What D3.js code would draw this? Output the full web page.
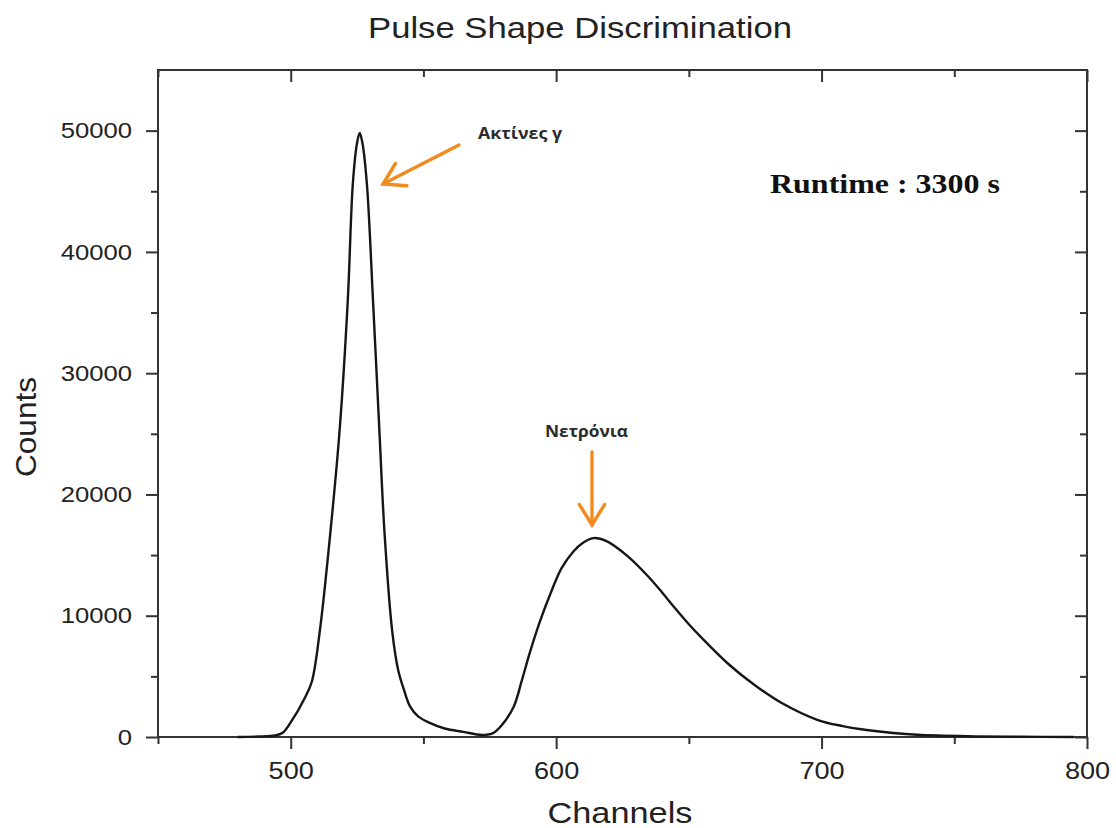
<!DOCTYPE html>
<html>
<head>
<meta charset="utf-8">
<script src="https://cdn.jsdelivr.net/npm/d3@7"></script>
<style>
    body { margin: 0; background: #fff; }
    svg { display: block; }
</style>
</head>
<body>
<div id="chart"></div>
<script>
// spectrum
var channels = [480, 488, 494, 497, 500, 505.5, 508, 511, 515, 518.5, 521.5, 523.4, 525, 526,
    527, 528.7, 531, 533.4, 535.3, 538.2, 540.5, 542.5, 545, 548, 552.6, 558, 565, 572,
    576, 579, 584, 587, 590, 594, 598, 602, 606.5, 610, 614, 619, 627, 634, 640, 644.5, 650, 654.5,
    665, 675, 685, 698.6, 708, 717, 727, 736, 755, 775, 795];
var counts = [0, 40, 120, 350, 1200, 3300, 4600, 8800, 17000, 25500, 36000, 45600, 49000, 49800,
    49000, 45600, 36000, 25300, 17000, 8800, 5500, 4000, 2500, 1700, 1150, 700, 420, 170,
    300, 850, 2500, 4600, 6900, 9600, 11900, 13900, 15300, 16000, 16400, 16150, 14900, 13400, 11900, 10700, 9300, 8250,
    6000, 4250, 2800, 1400, 900, 580, 330, 180, 60, 20, 5];

var xMajor = [500, 600, 700, 800];
var xMinor = [450, 550, 650, 750];
var yMajor = [0, 10000, 20000, 30000, 40000, 50000];
var yMinor = [5000, 15000, 25000, 35000, 45000];

var title = "Pulse Shape Discrimination";
var xTitle = "Channels";
var yTitle = "Counts";
var gammaLabel = "Ακτίνες γ";
var neutronLabel = "Νετρόνια";
var runtimeLabel = "Runtime : 3300 s";

var width = 1116, height = 828;
var plotLeft = 158, plotRight = 1087, plotTop = 70, plotBottom = 737;
var axisColor = "#333";
var orange = "#f28a1e";

var svg = d3.select("#chart").append("svg")
    .attr("width", width)
    .attr("height", height);

var x = d3.scaleLinear().domain([450, 800]).range([plotLeft, plotRight]);
var y = d3.scaleLinear().domain([0, 55000]).range([plotBottom, plotTop]);

// text in the picture is a bit wider than normal, stretch it
function stretch(sel, k) {
    sel.each(function () {
        var w = this.getComputedTextLength();
        d3.select(this).attr("textLength", w * k).attr("lengthAdjust", "spacingAndGlyphs");
    });
}

// frame
svg.append("rect")
    .attr("x", plotLeft).attr("y", plotTop)
    .attr("width", plotRight - plotLeft).attr("height", plotBottom - plotTop)
    .attr("fill", "none")
    .attr("stroke", axisColor)
    .attr("stroke-width", 2);

function styleAxis(g) {
    g.select(".domain").remove();
    g.selectAll("line").attr("stroke", axisColor).attr("stroke-width", 2);
    g.selectAll("text")
        .attr("fill", "#222")
        .attr("font-family", "Liberation Sans, Arial, sans-serif");
}

// bottom
var gx = svg.append("g").attr("transform", "translate(0," + plotBottom + ")")
    .call(d3.axisBottom(x).tickValues(xMajor).tickSize(12).tickPadding(13).tickFormat(d3.format("d")));
styleAxis(gx);
gx.selectAll("text").attr("font-size", 24);
stretch(gx.selectAll("text"), 1.13);
svg.append("g").attr("transform", "translate(0," + plotBottom + ")")
    .call(d3.axisBottom(x).tickValues(xMinor).tickSize(7).tickFormat(""))
    .call(styleAxis);

// top, ticks inside
svg.append("g").attr("transform", "translate(0," + plotTop + ")")
    .call(d3.axisBottom(x).tickValues(xMajor).tickSize(12).tickFormat(""))
    .call(styleAxis);
svg.append("g").attr("transform", "translate(0," + plotTop + ")")
    .call(d3.axisBottom(x).tickValues(xMinor).tickSize(7).tickFormat(""))
    .call(styleAxis);

// left
var gy = svg.append("g").attr("transform", "translate(" + plotLeft + ",0)")
    .call(d3.axisLeft(y).tickValues(yMajor).tickSize(12).tickPadding(14).tickFormat(d3.format("d")));
styleAxis(gy);
gy.selectAll("text").attr("font-size", 22.5);
stretch(gy.selectAll("text"), 1.14);
svg.append("g").attr("transform", "translate(" + plotLeft + ",0)")
    .call(d3.axisLeft(y).tickValues(yMinor).tickSize(7).tickFormat(""))
    .call(styleAxis);

// right, ticks inside
svg.append("g").attr("transform", "translate(" + plotRight + ",0)")
    .call(d3.axisLeft(y).tickValues(yMajor).tickSize(12).tickFormat(""))
    .call(styleAxis);
svg.append("g").attr("transform", "translate(" + plotRight + ",0)")
    .call(d3.axisLeft(y).tickValues(yMinor).tickSize(7).tickFormat(""))
    .call(styleAxis);

// spectrum line
var points = channels.map(function (c, i) { return [c, counts[i]]; });
var line = d3.line()
    .x(d => x(d[0]))
    .y(d => y(d[1]))
    .curve(d3.curveCatmullRom.alpha(0.5));

svg.append("path")
    .attr("d", line(points))
    .attr("fill", "none")
    .attr("stroke", "#161616")
    .attr("stroke-width", 2.4)
    .attr("stroke-linejoin", "round");

// titles
svg.append("text")
    .text(title)
    .attr("x", 580).attr("y", 38)
    .attr("text-anchor", "middle")
    .attr("font-family", "Liberation Sans, Arial, sans-serif")
    .attr("font-size", 29.5)
    .attr("fill", "#222")
    .attr("textLength", 424).attr("lengthAdjust", "spacingAndGlyphs");

svg.append("text")
    .text(xTitle)
    .attr("x", 620).attr("y", 823)
    .attr("text-anchor", "middle")
    .attr("font-family", "Liberation Sans, Arial, sans-serif")
    .attr("font-size", 30)
    .attr("fill", "#222")
    .attr("textLength", 145).attr("lengthAdjust", "spacingAndGlyphs");

svg.append("text")
    .text(yTitle)
    .attr("transform", "translate(36,427) rotate(-90)")
    .attr("text-anchor", "middle")
    .attr("font-family", "Liberation Sans, Arial, sans-serif")
    .attr("font-size", 30)
    .attr("fill", "#222")
    .attr("textLength", 100).attr("lengthAdjust", "spacingAndGlyphs");

// annotations
svg.append("text")
    .text(gammaLabel)
    .attr("x", 478).attr("y", 139)
    .attr("font-family", "Open Sans, sans-serif")
    .attr("font-weight", "bold")
    .attr("font-size", 16)
    .attr("fill", "#2b2b2b")
    .attr("textLength", 84).attr("lengthAdjust", "spacingAndGlyphs");

svg.append("text")
    .text(neutronLabel)
    .attr("x", 545).attr("y", 437)
    .attr("font-family", "Open Sans, sans-serif")
    .attr("font-weight", "bold")
    .attr("font-size", 16)
    .attr("fill", "#2b2b2b")
    .attr("textLength", 83).attr("lengthAdjust", "spacingAndGlyphs");

svg.append("text")
    .text(runtimeLabel)
    .attr("x", 770).attr("y", 193)
    .attr("font-family", "Liberation Serif, Times New Roman, serif")
    .attr("font-weight", "bold")
    .attr("font-size", 27)
    .attr("fill", "#111")
    .attr("textLength", 230).attr("lengthAdjust", "spacingAndGlyphs");

// orange arrows, open heads
function arrow(x1, y1, x2, y2) {
    var ang = Math.atan2(y2 - y1, x2 - x1);
    var len = 24, spread = 0.55;
    var g = svg.append("g")
        .attr("stroke", orange)
        .attr("stroke-width", 3.4)
        .attr("stroke-linecap", "round")
        .attr("fill", "none");
    g.append("line").attr("x1", x1).attr("y1", y1).attr("x2", x2).attr("y2", y2);
    g.append("path").attr("d", d3.line()([
        [x2 - len * Math.cos(ang - spread), y2 - len * Math.sin(ang - spread)],
        [x2, y2],
        [x2 - len * Math.cos(ang + spread), y2 - len * Math.sin(ang + spread)]
    ]));
}
arrow(459, 145, 383, 184);
arrow(592, 452, 592, 525);
</script>
</body>
</html>
